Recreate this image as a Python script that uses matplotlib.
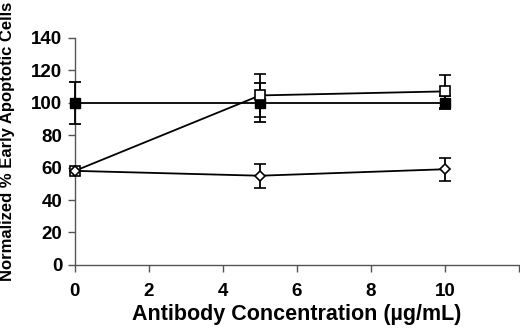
import matplotlib
matplotlib.use("Agg")
from matplotlib import pyplot as plt

# concentration (ug/mL)
conc = [0, 5, 10]

# filled squares
filled_sq = [100, 100, 100]
filled_sq_err = [13, 12, 4]

# open squares
open_sq = [58, 104.5, 107]
open_sq_err = [0, 13, 10]

# open diamonds
open_dia = [58, 55, 59]
open_dia_err = [0, 7.5, 7]

xticks = [0, 2, 4, 6, 8, 10, 12]
xticklabels = ["0", "2", "4", "6", "8", "10", ""]
yticks = [0, 20, 40, 60, 80, 100, 120, 140]

plt.rcParams["font.family"] = ["Liberation Sans", "DejaVu Sans"]
plt.rcParams["font.weight"] = "bold"

fig = plt.figure(figsize=(5.2, 3.32), dpi=100)
ax = fig.add_axes([0.144, 0.202, 0.854, 0.684])

common = dict(color="black", lw=1.3, capsize=4, elinewidth=1.3, capthick=1.3,
              clip_on=False, zorder=3)
ax.errorbar(conc, filled_sq, yerr=filled_sq_err, marker="s", ms=7,
            mfc="black", mec="black", **common)
ax.errorbar(conc, open_sq, yerr=open_sq_err, marker="s", ms=7,
            mfc="white", mec="black", mew=1.2, **common)
ax.errorbar(conc, open_dia, yerr=open_dia_err, marker="D", ms=5.5,
            mfc="white", mec="black", mew=1.2, **common)

ax.set_xlim(0, 12)
ax.set_ylim(0, 140)
ax.set_xticks(xticks)
ax.set_xticklabels(xticklabels)
ax.set_yticks(yticks)
for s in ["top", "right"]:
    ax.spines[s].set_visible(False)
for s in ["left", "bottom"]:
    ax.spines[s].set_color("#555555")
    ax.spines[s].set_linewidth(1.0)
ax.tick_params(axis="both", colors="#555555", length=5, width=1.0,
               labelsize=13.5, labelcolor="black")
ax.tick_params(axis="x", pad=8)
ax.tick_params(axis="y", pad=4)

ax.set_xlabel("Antibody Concentration (µg/mL)", fontsize=15.5, fontweight="bold", labelpad=3)
ax.set_ylabel("Normalized % Early Apoptotic Cells", fontsize=12, fontweight="bold")
ax.yaxis.set_label_coords(-0.135, 0.545)

fig.savefig("out.png", dpi=100)
